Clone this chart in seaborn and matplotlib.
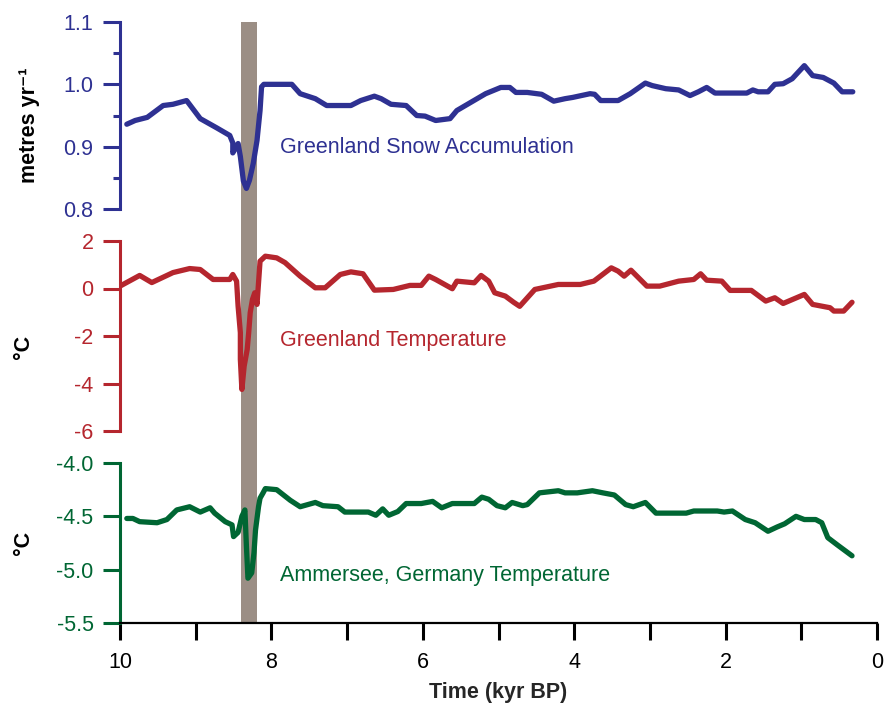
import numpy as np
import pandas as pd
import matplotlib
matplotlib.use('Agg')
import matplotlib.pyplot as plt
import seaborn as sns

sns.set_style('ticks')
plt.rcParams['font.family'] = ['Liberation Sans', 'DejaVu Sans']
plt.rcParams['axes.unicode_minus'] = False

# Greenland snow accumulation (metres/yr)
acc_time = [9.91, 9.80, 9.64, 9.43, 9.30, 9.12, 8.94, 8.72, 8.55, 8.51, 8.51, 8.44, 8.41,
            8.37, 8.33, 8.29, 8.24, 8.19, 8.15, 8.13, 8.10, 7.73, 7.62, 7.42, 7.27, 6.95,
            6.82, 6.64, 6.55, 6.42, 6.22, 6.08, 5.97, 5.83, 5.64, 5.55, 5.17, 4.97, 4.85,
            4.77, 4.62, 4.43, 4.27, 4.12, 4.02, 3.79, 3.73, 3.65, 3.42, 3.26, 3.06, 2.97,
            2.79, 2.62, 2.47, 2.36, 2.25, 2.14, 1.72, 1.64, 1.57, 1.44, 1.35, 1.24, 1.12,
            0.96, 0.85, 0.71, 0.57, 0.46, 0.32]
acc_val = [0.936, 0.942, 0.947, 0.966, 0.968, 0.974, 0.945, 0.930, 0.918, 0.906, 0.890, 0.905, 0.884,
           0.845, 0.833, 0.846, 0.873, 0.910, 0.958, 0.996, 1.000, 1.000, 0.985, 0.977, 0.966, 0.966,
           0.974, 0.981, 0.977, 0.968, 0.966, 0.950, 0.949, 0.942, 0.945, 0.958, 0.985, 0.995, 0.995,
           0.987, 0.987, 0.984, 0.973, 0.977, 0.979, 0.985, 0.984, 0.974, 0.974, 0.985, 1.002, 0.998,
           0.993, 0.991, 0.982, 0.988, 0.995, 0.986, 0.986, 0.991, 0.988, 0.988, 1.000, 1.001, 1.009,
           1.030, 1.014, 1.011, 1.002, 0.988, 0.988]

# Greenland temperature anomaly (degC)
grt_time = [10.00, 9.74, 9.58, 9.30, 9.08, 8.94, 8.77, 8.55, 8.51, 8.46, 8.44, 8.41, 8.41,
            8.39, 8.36, 8.32, 8.30, 8.28, 8.25, 8.22, 8.19, 8.17, 8.15, 8.08, 7.93, 7.82,
            7.62, 7.42, 7.29, 7.09, 6.95, 6.79, 6.64, 6.39, 6.17, 6.02, 5.92, 5.83, 5.61,
            5.55, 5.32, 5.23, 5.13, 5.05, 4.91, 4.80, 4.72, 4.52, 4.21, 3.92, 3.74, 3.51,
            3.42, 3.34, 3.25, 3.04, 2.87, 2.62, 2.42, 2.33, 2.25, 2.05, 1.94, 1.66, 1.47,
            1.35, 1.24, 0.96, 0.85, 0.62, 0.57, 0.44, 0.33]
grt_val = [0.10, 0.55, 0.25, 0.67, 0.84, 0.80, 0.38, 0.38, 0.59, 0.31, -0.74, -1.86, -2.98,
           -4.25, -3.27, -2.57, -1.86, -1.02, -0.46, -0.18, -0.67, 0.24, 1.15, 1.36, 1.29, 1.09,
           0.52, 0.03, 0.03, 0.59, 0.70, 0.62, -0.07, -0.04, 0.13, 0.13, 0.52, 0.38, -0.01,
           0.31, 0.24, 0.55, 0.31, -0.18, -0.32, -0.58, -0.75, -0.04, 0.17, 0.17, 0.31, 0.87,
           0.73, 0.52, 0.77, 0.10, 0.10, 0.31, 0.38, 0.62, 0.35, 0.31, -0.08, -0.08, -0.53,
           -0.39, -0.63, -0.25, -0.67, -0.81, -0.95, -0.95, -0.58]

# Ammersee, Germany temperature (degC)
amm_time = [9.91, 9.83, 9.74, 9.51, 9.38, 9.25, 9.08, 8.94, 8.81, 8.75, 8.61, 8.52, 8.50,
            8.44, 8.39, 8.35, 8.33, 8.31, 8.26, 8.23, 8.21, 8.17, 8.15, 8.11, 8.08, 7.93,
            7.75, 7.62, 7.42, 7.32, 7.12, 7.03, 6.72, 6.62, 6.53, 6.45, 6.33, 6.22, 6.02,
            5.87, 5.75, 5.61, 5.32, 5.22, 5.13, 5.02, 4.91, 4.82, 4.68, 4.62, 4.46, 4.21,
            4.12, 3.96, 3.76, 3.62, 3.47, 3.32, 3.22, 3.06, 2.92, 2.52, 2.42, 2.11, 2.02,
            1.91, 1.74, 1.61, 1.44, 1.32, 1.22, 1.07, 0.96, 0.81, 0.73, 0.65, 0.52, 0.33]
amm_val = [-4.52, -4.52, -4.55, -4.56, -4.53, -4.44, -4.41, -4.46, -4.42, -4.47, -4.55, -4.58, -4.69,
           -4.65, -4.50, -4.44, -4.78, -5.08, -5.03, -4.84, -4.63, -4.41, -4.33, -4.28, -4.24, -4.25,
           -4.35, -4.41, -4.37, -4.40, -4.41, -4.46, -4.46, -4.49, -4.43, -4.49, -4.455, -4.38, -4.38,
           -4.36, -4.42, -4.38, -4.38, -4.32, -4.34, -4.40, -4.42, -4.37, -4.40, -4.39, -4.28, -4.26,
           -4.28, -4.28, -4.26, -4.28, -4.30, -4.39, -4.41, -4.37, -4.47, -4.47, -4.45, -4.45, -4.46,
           -4.45, -4.53, -4.56, -4.64, -4.60, -4.57, -4.50, -4.53, -4.53, -4.56, -4.70, -4.77, -4.87]

event = [8.40, 8.19]

blue = '#2e3192'
red = '#b5262e'
green = '#006633'
band = '#9b8e85'

fig = plt.figure(figsize=(8.92, 7.03), dpi=100)

L, W = 120 / 892, 757 / 892
def rect(top, bottom):
    return [L, 1 - bottom / 703, W, (bottom - top) / 703]

# background axis for the gray band spanning all panels
bg = fig.add_axes(rect(22, 623))
bg.set_xlim(10, 0)
bg.axvspan(event[0], event[1], color=band, lw=0)
bg.axis('off')

panels = [
    dict(r=rect(22, 209), t=acc_time, v=acc_val, c=blue, ylim=(0.8, 1.1),
         ticks=[0.8, 0.9, 1.0, 1.1], fmt='%.1f', lab='metres yr⁻¹', lx=-0.106, ly=0.45,
         txt='Greenland Snow Accumulation', ty=0.898),
    dict(r=rect(241, 431), t=grt_time, v=grt_val, c=red, ylim=(-6, 2),
         ticks=[-6, -4, -2, 0, 2], fmt='%d', lab='°C', lx=-0.114, ly=0.44,
         txt='Greenland Temperature', ty=-2.19),
    dict(r=rect(463, 623), t=amm_time, v=amm_val, c=green, ylim=(-5.5, -4.0),
         ticks=[-5.5, -5.0, -4.5, -4.0], fmt='%.1f', lab='°C', lx=-0.114, ly=0.5,
         txt='Ammersee, Germany Temperature', ty=-5.05),
]

axes = []
for i, p in enumerate(panels):
    ax = fig.add_axes(p['r'])
    ax.set_facecolor('none')
    sns.lineplot(x=p['t'], y=p['v'], sort=False, estimator=None, color=p['c'],
                 lw=3.8, ax=ax)
    ax.set_xlim(10, 0)
    ax.set_ylim(*p['ylim'])
    ax.set_yticks(p['ticks'])
    ax.set_yticklabels([p['fmt'] % t for t in p['ticks']])
    for s in ['top', 'right']:
        ax.spines[s].set_visible(False)
    ax.spines['left'].set_color(p['c'])
    ax.spines['left'].set_linewidth(2.2)
    ax.tick_params(axis='y', colors=p['c'], length=12, width=2.2, pad=7, labelsize=15.5)
    ax.set_ylabel(p['lab'], fontsize=15.5, fontweight='bold', color='black')
    ax.yaxis.set_label_coords(p['lx'], p['ly'])
    ax.text(7.886, p['ty'], p['txt'], color=p['c'], fontsize=15.5, ha='left', va='center')
    if i < 2:
        ax.spines['bottom'].set_visible(False)
        ax.set_xticks([])
    axes.append(ax)

axes[0].set_yticks([0.85, 0.95, 1.05], minor=True)
axes[0].tick_params(axis='y', which='minor', colors=blue, length=5, width=2.2)

ax = axes[2]
ax.spines['bottom'].set_linewidth(1.6)
ax.spines['bottom'].set_color('black')
ax.set_xticks(range(0, 11))
ax.set_xticklabels([str(v) if v % 2 == 0 else '' for v in range(0, 11)])
ax.tick_params(axis='x', colors='black', length=12, width=2.2, pad=9, labelsize=15.5)
ax.set_xlabel('Time (kyr BP)', fontsize=15.5, fontweight='bold')
ax.xaxis.set_label_coords(0.5, -0.37)

fig.savefig('out.png', dpi=100)
